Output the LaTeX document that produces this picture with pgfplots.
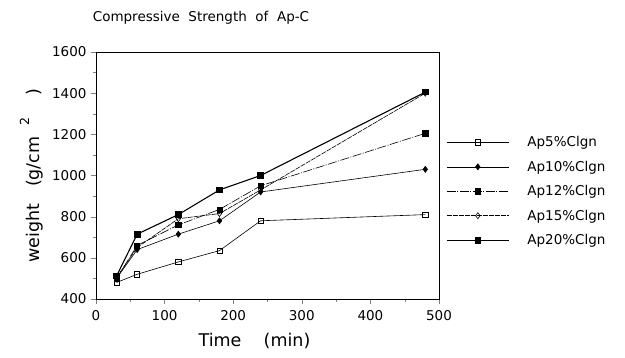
\documentclass[border=0pt]{standalone}
\usepackage{fontspec}
\setmainfont{DejaVu Sans}
\usepackage{pgfplots}
\pgfplotsset{compat=1.18}
\begin{document}
\begin{tikzpicture}[x=1pt,y=1pt]
\useasboundingbox (0,0) rectangle (625,357);
\node[font=\fontsize{13.5}{15}\selectfont] at (201,339) {Compressive\ \ Strength\ \ of\ \ Ap-C};
\begin{axis}[
  at={(96pt,58pt)}, anchor=south west,
  scale only axis, width=343pt, height=247pt,
  xmin=0, xmax=500, ymin=400, ymax=1600,
  xtick={0,100,...,500}, ytick={400,600,...,1600},
  minor x tick num=1, minor y tick num=1,
  xtick pos=left, ytick pos=left,
  tick align=outside,
  major tick length=5pt, minor tick length=3pt,
  /pgf/number format/assume math mode=true,
  /pgf/number format/1000 sep={},
  tick label style={font=\fontsize{13.5}{15}\selectfont},
  yticklabel style={xshift=-1pt},
  xticklabel style={yshift=-3pt},
  xlabel={Time\ \ \ \ (min)},
  xlabel style={font=\fontsize{17.5}{20}\selectfont, yshift=-6pt, xshift=-13pt},
  ylabel={weight\ \ \ (g/cm\ \ \raisebox{1.1ex}{\fontsize{12.5}{14}\selectfont 2}\ \ \ \ )},
  ylabel style={font=\fontsize{17.5}{20}\selectfont, yshift=2pt},
  legend style={at={(1.012,0.675)}, anchor=north west, draw=none, fill=none,
    font=\fontsize{13.5}{15}\selectfont, row sep=8.7pt,
    nodes={inner xsep=11pt}},
  legend cell align=left,
  legend image code/.code={\draw[mark repeat=2,mark phase=2,#1] plot coordinates {(0pt,0pt) (31pt,0pt) (62pt,0pt)};},
  every axis plot/.append style={black, line width=0.6pt},
]
\addplot[mark=square, mark size=2.6pt, mark options={solid, fill=white}] coordinates {(30,480) (60,520) (120,580) (180,635) (240,780) (480,810)};
\addlegendentry{\hspace{7pt}Ap5\%Clgn}
\addplot[mark=diamond*, mark size=3pt, mark options={solid}] coordinates {(30,500) (60,640) (120,715) (180,780) (240,920) (480,1030)};
\addlegendentry{\hspace{7pt}Ap10\%Clgn}
\addplot[dash pattern=on 9pt off 1.5pt on 1pt off 1.5pt, mark=square*, mark size=2.6pt, mark options={solid, fill=black}] coordinates {(30,500) (60,660) (120,760) (180,835) (240,950) (480,1205)};
\addlegendentry{\hspace{7pt}Ap12\%Clgn}
\addplot[dash pattern=on 5pt off 1pt, mark=diamond, mark size=3pt, mark options={solid, fill=white}] coordinates {(30,505) (60,650) (120,790) (180,815) (240,930) (480,1400)};
\addlegendentry{\hspace{7pt}Ap15\%Clgn}
\addplot[line width=1.1pt, mark=square*, mark size=2.8pt, mark options={solid}] coordinates {(30,512) (60,715) (120,810) (180,930) (240,1000) (480,1405)};
\addlegendentry{\hspace{7pt}Ap20\%Clgn}
\end{axis}
\end{tikzpicture}
\end{document}
